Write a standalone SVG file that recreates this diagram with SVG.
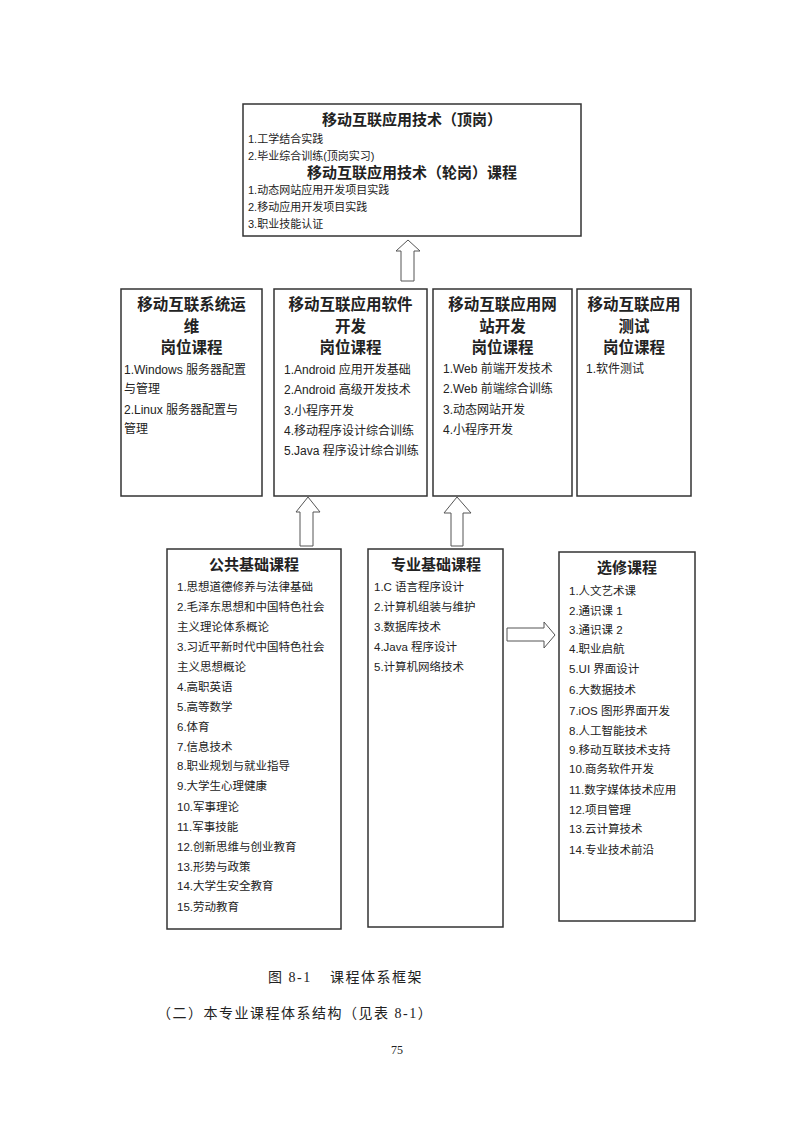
<svg xmlns="http://www.w3.org/2000/svg" width="793" height="1122" viewBox="0 0 793 1122">
<style>
.box{fill:#fff;stroke:#333;stroke-width:1.5}
.arr{fill:#fff;stroke:#555;stroke-width:1}
.t{font-family:"Liberation Sans","Noto Sans CJK SC",sans-serif;font-weight:bold;font-size:15px;fill:#222;text-anchor:middle}
.tm{font-family:"Liberation Sans","Noto Sans CJK SC",sans-serif;font-weight:bold;font-size:15.5px;fill:#222;text-anchor:middle}
.s{font-family:"Liberation Sans","Noto Sans CJK SC",sans-serif;font-size:11px;fill:#222}
.m{font-family:"Liberation Sans","Noto Sans CJK SC",sans-serif;font-size:12px;fill:#222}
.b{font-family:"Liberation Sans","Noto Sans CJK SC",sans-serif;font-size:11.5px;fill:#222}
.cap{font-family:"Liberation Serif","Noto Sans CJK SC",serif;font-size:14px;fill:#222;letter-spacing:1.5px}
</style>
<rect width="793" height="1122" fill="#fff"/>
<g id="connectors">
<polygon class="arr" points="408,240 420,251 414,251 414,281 401,281 401,251 396,251"/>
<polygon class="arr" points="308,497 320,512 313,512 313,546 300,546 300,512 296,512"/>
<polygon class="arr" points="457,497 471,513 463,513 463,546 451,546 451,513 444,513"/>
<polygon class="arr" points="507,628 544,628 544,622 555,635 544,648 544,641 507,641"/>
</g>
<g id="top">
<rect class="box" x="243" y="104" width="338" height="132"/>
<text class="t" x="412" y="125">移动互联应用技术（顶岗）</text>
<text class="s" x="248" y="143">1.工学结合实践</text>
<text class="s" x="248" y="160">2.毕业综合训练(顶岗实习)</text>
<text class="t" x="412" y="178">移动互联应用技术（轮岗）课程</text>
<text class="s" x="248" y="194">1.动态网站应用开发项目实践</text>
<text class="s" x="248" y="211">2.移动应用开发项目实践</text>
<text class="s" x="248" y="228">3.职业技能认证</text>
</g>
<g id="ops">
<rect class="box" x="121" y="289" width="141" height="207"/>
<text class="tm" x="191.5" y="310">移动互联系统运</text>
<text class="tm" x="191.5" y="332">维</text>
<text class="tm" x="191.5" y="353">岗位课程</text>
<text class="m" x="124" y="374">1.Windows 服务器配置</text>
<text class="m" x="124" y="393">与管理</text>
<text class="m" x="124" y="414">2.Linux 服务器配置与</text>
<text class="m" x="124" y="433">管理</text>
</g>
<g id="app">
<rect class="box" x="274" y="289" width="153" height="207"/>
<text class="tm" x="350.5" y="310">移动互联应用软件</text>
<text class="tm" x="350.5" y="332">开发</text>
<text class="tm" x="350.5" y="353">岗位课程</text>
<text class="m" x="284" y="374">1.Android 应用开发基础</text>
<text class="m" x="284" y="394">2.Android 高级开发技术</text>
<text class="m" x="284" y="415">3.小程序开发</text>
<text class="m" x="284" y="435">4.移动程序设计综合训练</text>
<text class="m" x="284" y="455">5.Java 程序设计综合训练</text>
</g>
<g id="web">
<rect class="box" x="433" y="289" width="139" height="207"/>
<text class="tm" x="502.5" y="310">移动互联应用网</text>
<text class="tm" x="502.5" y="332">站开发</text>
<text class="tm" x="502.5" y="353">岗位课程</text>
<text class="m" x="443" y="373">1.Web 前端开发技术</text>
<text class="m" x="443" y="393">2.Web 前端综合训练</text>
<text class="m" x="443" y="414">3.动态网站开发</text>
<text class="m" x="443" y="434">4.小程序开发</text>
</g>
<g id="test">
<rect class="box" x="577" y="289" width="114" height="207"/>
<text class="tm" x="634" y="310">移动互联应用</text>
<text class="tm" x="634" y="332">测试</text>
<text class="tm" x="634" y="353">岗位课程</text>
<text class="m" x="586" y="373">1.软件测试</text>
</g>
<g id="public">
<rect class="box" x="167" y="549" width="174" height="380"/>
<text class="t" x="254" y="570">公共基础课程</text>
<text class="b" x="177" y="591">1.思想道德修养与法律基础</text>
<text class="b" x="177" y="611">2.毛泽东思想和中国特色社会</text>
<text class="b" x="177" y="631">主义理论体系概论</text>
<text class="b" x="177" y="651">3.习近平新时代中国特色社会</text>
<text class="b" x="177" y="671">主义思想概论</text>
<text class="b" x="177" y="691">4.高职英语</text>
<text class="b" x="177" y="711">5.高等数学</text>
<text class="b" x="177" y="731">6.体育</text>
<text class="b" x="177" y="751">7.信息技术</text>
<text class="b" x="177" y="770">8.职业规划与就业指导</text>
<text class="b" x="177" y="790">9.大学生心理健康</text>
<text class="b" x="177" y="811">10.军事理论</text>
<text class="b" x="177" y="831">11.军事技能</text>
<text class="b" x="177" y="851">12.创新思维与创业教育</text>
<text class="b" x="177" y="871">13.形势与政策</text>
<text class="b" x="177" y="890">14.大学生安全教育</text>
<text class="b" x="177" y="911">15.劳动教育</text>
</g>
<g id="major">
<rect class="box" x="368" y="549" width="135" height="378"/>
<text class="t" x="436" y="570">专业基础课程</text>
<text class="b" x="374" y="591">1.C 语言程序设计</text>
<text class="b" x="374" y="611">2.计算机组装与维护</text>
<text class="b" x="374" y="631">3.数据库技术</text>
<text class="b" x="374" y="651">4.Java 程序设计</text>
<text class="b" x="374" y="671">5.计算机网络技术</text>
</g>
<g id="elective">
<rect class="box" x="559" y="552" width="136" height="369"/>
<text class="t" x="627" y="573">选修课程</text>
<text class="b" x="569" y="595">1.人文艺术课</text>
<text class="b" x="569" y="615">2.通识课 1</text>
<text class="b" x="569" y="634">3.通识课 2</text>
<text class="b" x="569" y="653">4.职业启航</text>
<text class="b" x="569" y="673">5.UI 界面设计</text>
<text class="b" x="569" y="694">6.大数据技术</text>
<text class="b" x="569" y="715">7.iOS 图形界面开发</text>
<text class="b" x="569" y="735">8.人工智能技术</text>
<text class="b" x="569" y="754">9.移动互联技术支持</text>
<text class="b" x="569" y="773">10.商务软件开发</text>
<text class="b" x="569" y="794">11.数字媒体技术应用</text>
<text class="b" x="569" y="814">12.项目管理</text>
<text class="b" x="569" y="833">13.云计算技术</text>
<text class="b" x="569" y="854">14.专业技术前沿</text>
</g>
<g id="caption">
<text class="cap" x="268" y="982">图 8-1</text>
<text class="cap" x="330" y="982">课程体系框架</text>
<text class="cap" x="157" y="1018">（二）本专业课程体系结构（见表 8-1）</text>
<text x="397" y="1054" font-family="Liberation Serif,serif" font-size="12" fill="#222" text-anchor="middle">75</text>
</g>
</svg>
